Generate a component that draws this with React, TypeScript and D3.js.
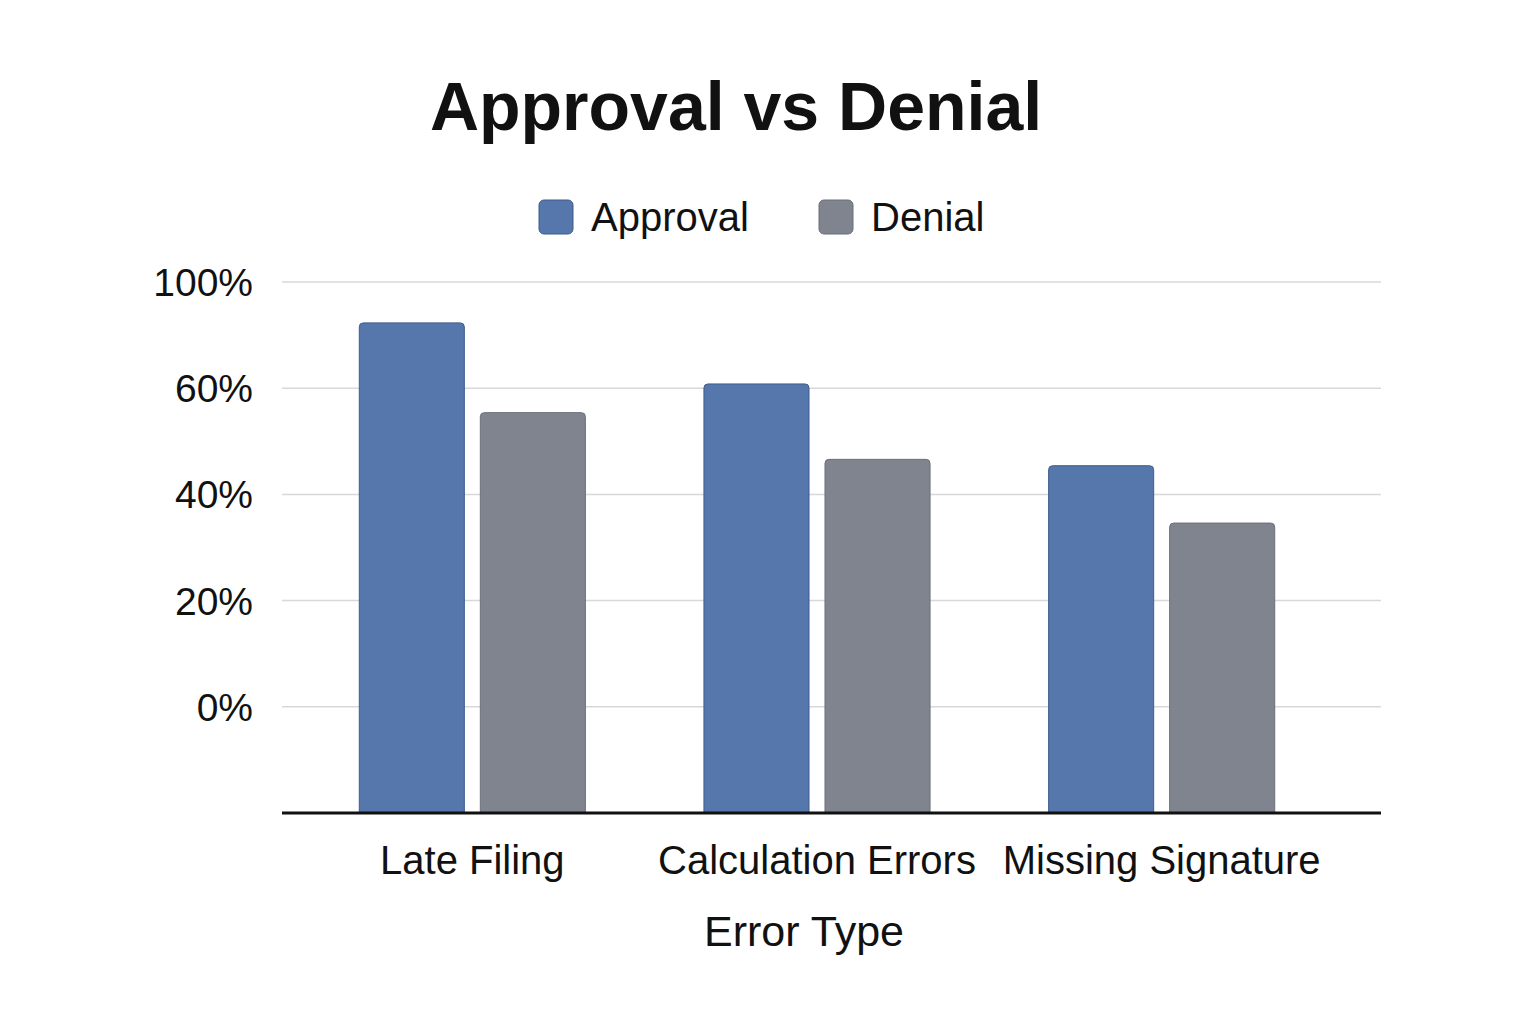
import React from "react";
import * as d3 from "d3";

const categories = ["Late Filing", "Calculation Errors", "Missing Signature"];
const seriesNames = ["Approval", "Denial"];
const approvalValues = [72.3, 60.8, 45.4];
const denialValues = [55.4, 46.6, 34.6];
const tickValues = [0, 20, 40, 60, 80];
const tickLabels = ["0%", "20%", "40%", "60%", "100%"];
const colors = ["#5577ab", "#80848e"];
const strokes = ["#3e5d8e", "#6b6f79"];

const W = 1536;
const H = 1024;
const FONT = "'Liberation Sans', Arial, Helvetica, sans-serif";

function topRoundedRect(x: number, y: number, w: number, h: number, r: number) {
  const rr = Math.min(r, w / 2, h);
  return `M${x},${y + h}V${y + rr}Q${x},${y} ${x + rr},${y}H${x + w - rr}Q${x + w},${y} ${x + w},${y + rr}V${y + h}Z`;
}

export default function App() {
  const plotLeft = 282;
  const plotRight = 1381;
  const y = d3.scaleLinear().domain([-20, 80]).range([813, 282]);
  const x0 = d3
    .scaleBand<string>()
    .domain(categories)
    .range([300, 1334])
    .paddingInner(0.344)
    .paddingOuter(0.172);
  const x1 = d3
    .scaleBand<string>()
    .domain(seriesNames)
    .range([0, x0.bandwidth()])
    .paddingInner(0.132);
  const series = [approvalValues, denialValues];
  const base = y(y.domain()[0]);

  return (
    <svg
      width={W}
      height={H}
      style={{ position: "absolute", left: 0, top: 0, background: "#ffffff" }}
      fontFamily={FONT}
    >
      <rect x={0} y={0} width={W} height={H} fill="#ffffff" />
      <text x={736} y={130} textAnchor="middle" fontSize={68} fontWeight="bold" fill="#111">
        Approval vs Denial
      </text>

      {/* legend */}
      {seriesNames.map((s, i) => {
        const lx = [539, 819][i];
        return (
          <g key={s}>
            <rect x={lx} y={200} width={34} height={34} rx={5} fill={colors[i]} stroke={strokes[i]} strokeWidth={1} />
            <text x={lx + 52} y={231} fontSize={40} fill="#111">
              {s}
            </text>
          </g>
        );
      })}

      {/* grid + y labels */}
      {tickValues.map((t, i) => (
        <g key={t}>
          <line x1={plotLeft} x2={plotRight} y1={y(t)} y2={y(t)} stroke="#d8d8d8" strokeWidth={1.5} />
          <text x={253} y={y(t)} dy="0.36em" textAnchor="end" fontSize={39} fill="#111">
            {tickLabels[i]}
          </text>
        </g>
      ))}

      {/* bars */}
      {categories.map((c, ci) => (
        <g key={c} transform={`translate(${x0(c)},0)`}>
          {seriesNames.map((s, si) => {
            const v = series[si][ci];
            const top = y(v);
            return (
              <path
                key={s}
                d={topRoundedRect(x1(s)!, top, x1.bandwidth(), base - top, 4)}
                fill={colors[si]}
                stroke={strokes[si]}
                strokeWidth={1}
              />
            );
          })}
        </g>
      ))}

      {/* x axis */}
      <line x1={plotLeft} x2={plotRight} y1={base} y2={base} stroke="#111" strokeWidth={3} />
      {categories.map((c) => (
        <text key={c} x={x0(c)! + x0.bandwidth() / 2} y={874} textAnchor="middle" fontSize={40} fill="#111">
          {c}
        </text>
      ))}
      <text x={804} y={946} textAnchor="middle" fontSize={43} fill="#111">
        Error Type
      </text>
    </svg>
  );
}
